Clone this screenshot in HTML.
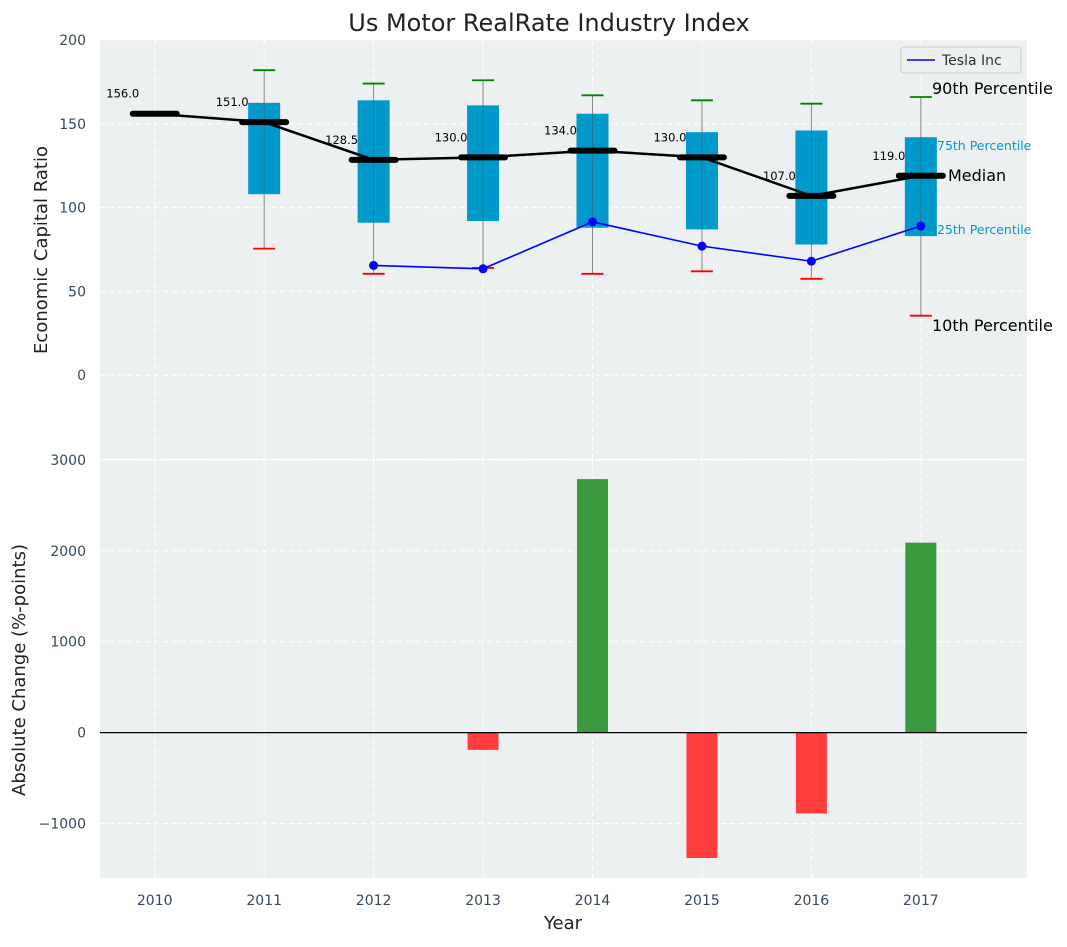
<!DOCTYPE html>
<html><head><meta charset="utf-8"><style>
body{margin:0;background:#fff;font-family:"Liberation Sans","DejaVu Sans",sans-serif}
svg text{font-family:"DejaVu Sans","Liberation Sans",sans-serif}
</style></head><body>
<svg id="c" width="1067" height="942" xmlns="http://www.w3.org/2000/svg"></svg>
<script>
const years=[2010,2011,2012,2013,2014,2015,2016,2017];
const medians=[156,151,128.5,130,134,130,107,119];
const p90=[null,182,174,176,167,164,162,166];
const p75=[null,162.5,164,161,156,145,146,142];
const p25=[null,108,91,92,88,87,78,83];
const p10=[null,75.5,60.5,64,60.5,62,57.5,35.5];
const teslaYears=[2012,2013,2014,2015,2016,2017];
const teslaVals=[65.5,63.5,91.5,77,68,89];
const changeYears=[2013,2014,2015,2016,2017];
const changeVals=[-190,2790,-1380,-890,2090];
const topTicks=[0,50,100,150,200];
const botTicks=[-1000,0,1000,2000,3000];

const svg=document.getElementById('c');const NS='http://www.w3.org/2000/svg';
function mk(t,a,p){const e=document.createElementNS(NS,t);for(const k in a)e.setAttribute(k,a[k]);(p||svg).appendChild(e);return e;}
const L=100,R=1027;
const x=v=>L+(v-2009.5)/(2017.97-2009.5)*(R-L);
const T0=40,T1=459,yT=v=>T0+(200-v)/(250)*(T1-T0);
const B0=460,B1=878,yB=v=>B0+(3000-v)/(4600)*(B1-B0);
let e=mk('rect',{x:L,y:T0,width:R-L,height:T1-T0,fill:'#ecf0f1'});

e=mk('rect',{x:L,y:B0,width:R-L,height:B1-B0,fill:'#ecf0f1'});

years.forEach(yr=>{[[T0,T1],[B0,B1]].forEach(([a,b])=>{mk('line',{x1:x(yr),x2:x(yr),y1:a,y2:b,stroke:'#fff','stroke-dasharray':'5,4','stroke-width':1});});
 e=mk('text',{x:x(yr),y:905,'text-anchor':'middle','font-size':14,fill:'#34495e'});e.textContent=yr;
 });
topTicks.forEach(v=>{mk('line',{x1:L,x2:R,y1:yT(v),y2:yT(v),stroke:'#fff','stroke-dasharray':'5,4'});
 e=mk('text',{x:86,y:yT(v)+5,'text-anchor':'end','font-size':14,fill:'#34495e'});e.textContent=v;
 });
botTicks.forEach(v=>{mk('line',{x1:L,x2:R,y1:yB(v),y2:yB(v),stroke:'#fff','stroke-dasharray':'5,4'});
 e=mk('text',{x:86,y:yB(v)+5,'text-anchor':'end','font-size':14,fill:'#34495e'});e.textContent=v<0?'\u2212'+(-v):v;
 });
years.forEach((yr,i)=>{if(p90[i]==null)return;const cx=x(yr);
 mk('line',{x1:cx,x2:cx,y1:yT(p90[i]),y2:yT(p10[i]),stroke:'#888','stroke-width':1});
 e=mk('rect',{x:cx-16,y:yT(p75[i]),width:32,height:yT(p25[i])-yT(p75[i]),fill:'#0099cc'});
 
 mk('line',{x1:cx,x2:cx,y1:yT(p75[i]),y2:yT(p25[i]),stroke:'#555','stroke-width':0.8,opacity:0.6});
 mk('line',{x1:cx-11,x2:cx+11,y1:yT(p90[i]),y2:yT(p90[i]),stroke:'green','stroke-width':1.8});
 mk('line',{x1:cx-11,x2:cx+11,y1:yT(p10[i]),y2:yT(p10[i]),stroke:'red','stroke-width':1.8});});
e=mk('polyline',{points:years.map((yr,i)=>x(yr)+','+yT(medians[i])).join(' '),fill:'none',stroke:'#000','stroke-width':2.5});

years.forEach((yr,i)=>{const cx=x(yr),cy=yT(medians[i]);
 mk('line',{x1:cx-22,x2:cx+22,y1:cy,y2:cy,stroke:'#000','stroke-width':6,'stroke-linecap':'round'});
 e=mk('text',{x:cx-32,y:cy-16,'text-anchor':'middle','font-size':11.5,fill:'#000'});e.textContent=medians[i].toFixed(1);
 });
e=mk('polyline',{points:teslaYears.map((yr,i)=>x(yr)+','+yT(teslaVals[i])).join(' '),fill:'none',stroke:'blue','stroke-width':1.6});

teslaYears.forEach((yr,i)=>{e=mk('circle',{cx:x(yr),cy:yT(teslaVals[i]),r:4.5,fill:'blue'});
 });
[[932,94,'90th Percentile',16,'#000'],[937,150,'75th Percentile',12.5,'#0099cc'],[948,181,'Median',16,'#000'],[937,234,'25th Percentile',12.5,'#0099cc'],[932,331,'10th Percentile',16,'#000']].forEach(a=>{
 e=mk('text',{x:a[0],y:a[1],'font-size':a[3],fill:a[4]});e.textContent=a[2];
 });
const lg=mk('g',{});
mk('rect',{x:901,y:47,width:120,height:26,rx:3,fill:'#ecf0f1',stroke:'#ccc'},lg);
mk('line',{x1:907,x2:935,y1:60,y2:60,stroke:'blue','stroke-width':1.6},lg);
e=mk('text',{x:942,y:65,'font-size':14,fill:'#333'},lg);e.textContent='Tesla Inc';
changeYears.forEach((yr,i)=>{const v=changeVals[i];const y1=yB(Math.max(v,0)),y2=yB(Math.min(v,0));
 e=mk('rect',{x:x(yr)-15.5,y:y1,width:31,height:y2-y1,fill:v>=0?'#3a9a3d':'#ff3d3d'});
 });
mk('line',{x1:L,x2:R,y1:yB(0),y2:yB(0),stroke:'#000','stroke-width':1.2});
e=mk('text',{x:549,y:31,'text-anchor':'middle','font-size':24,fill:'#222'});e.textContent='Us Motor RealRate Industry Index';

e=mk('text',{x:47,y:250,'text-anchor':'middle','font-size':18,fill:'#222',transform:'rotate(-90 47 250)'});e.textContent='Economic Capital Ratio';

e=mk('text',{x:25,y:670,'text-anchor':'middle','font-size':18,fill:'#222',transform:'rotate(-90 25 670)'});e.textContent='Absolute Change (%-points)';

e=mk('text',{x:563,y:929,'text-anchor':'middle','font-size':18,fill:'#222'});e.textContent='Year';

</script>
</body></html>
